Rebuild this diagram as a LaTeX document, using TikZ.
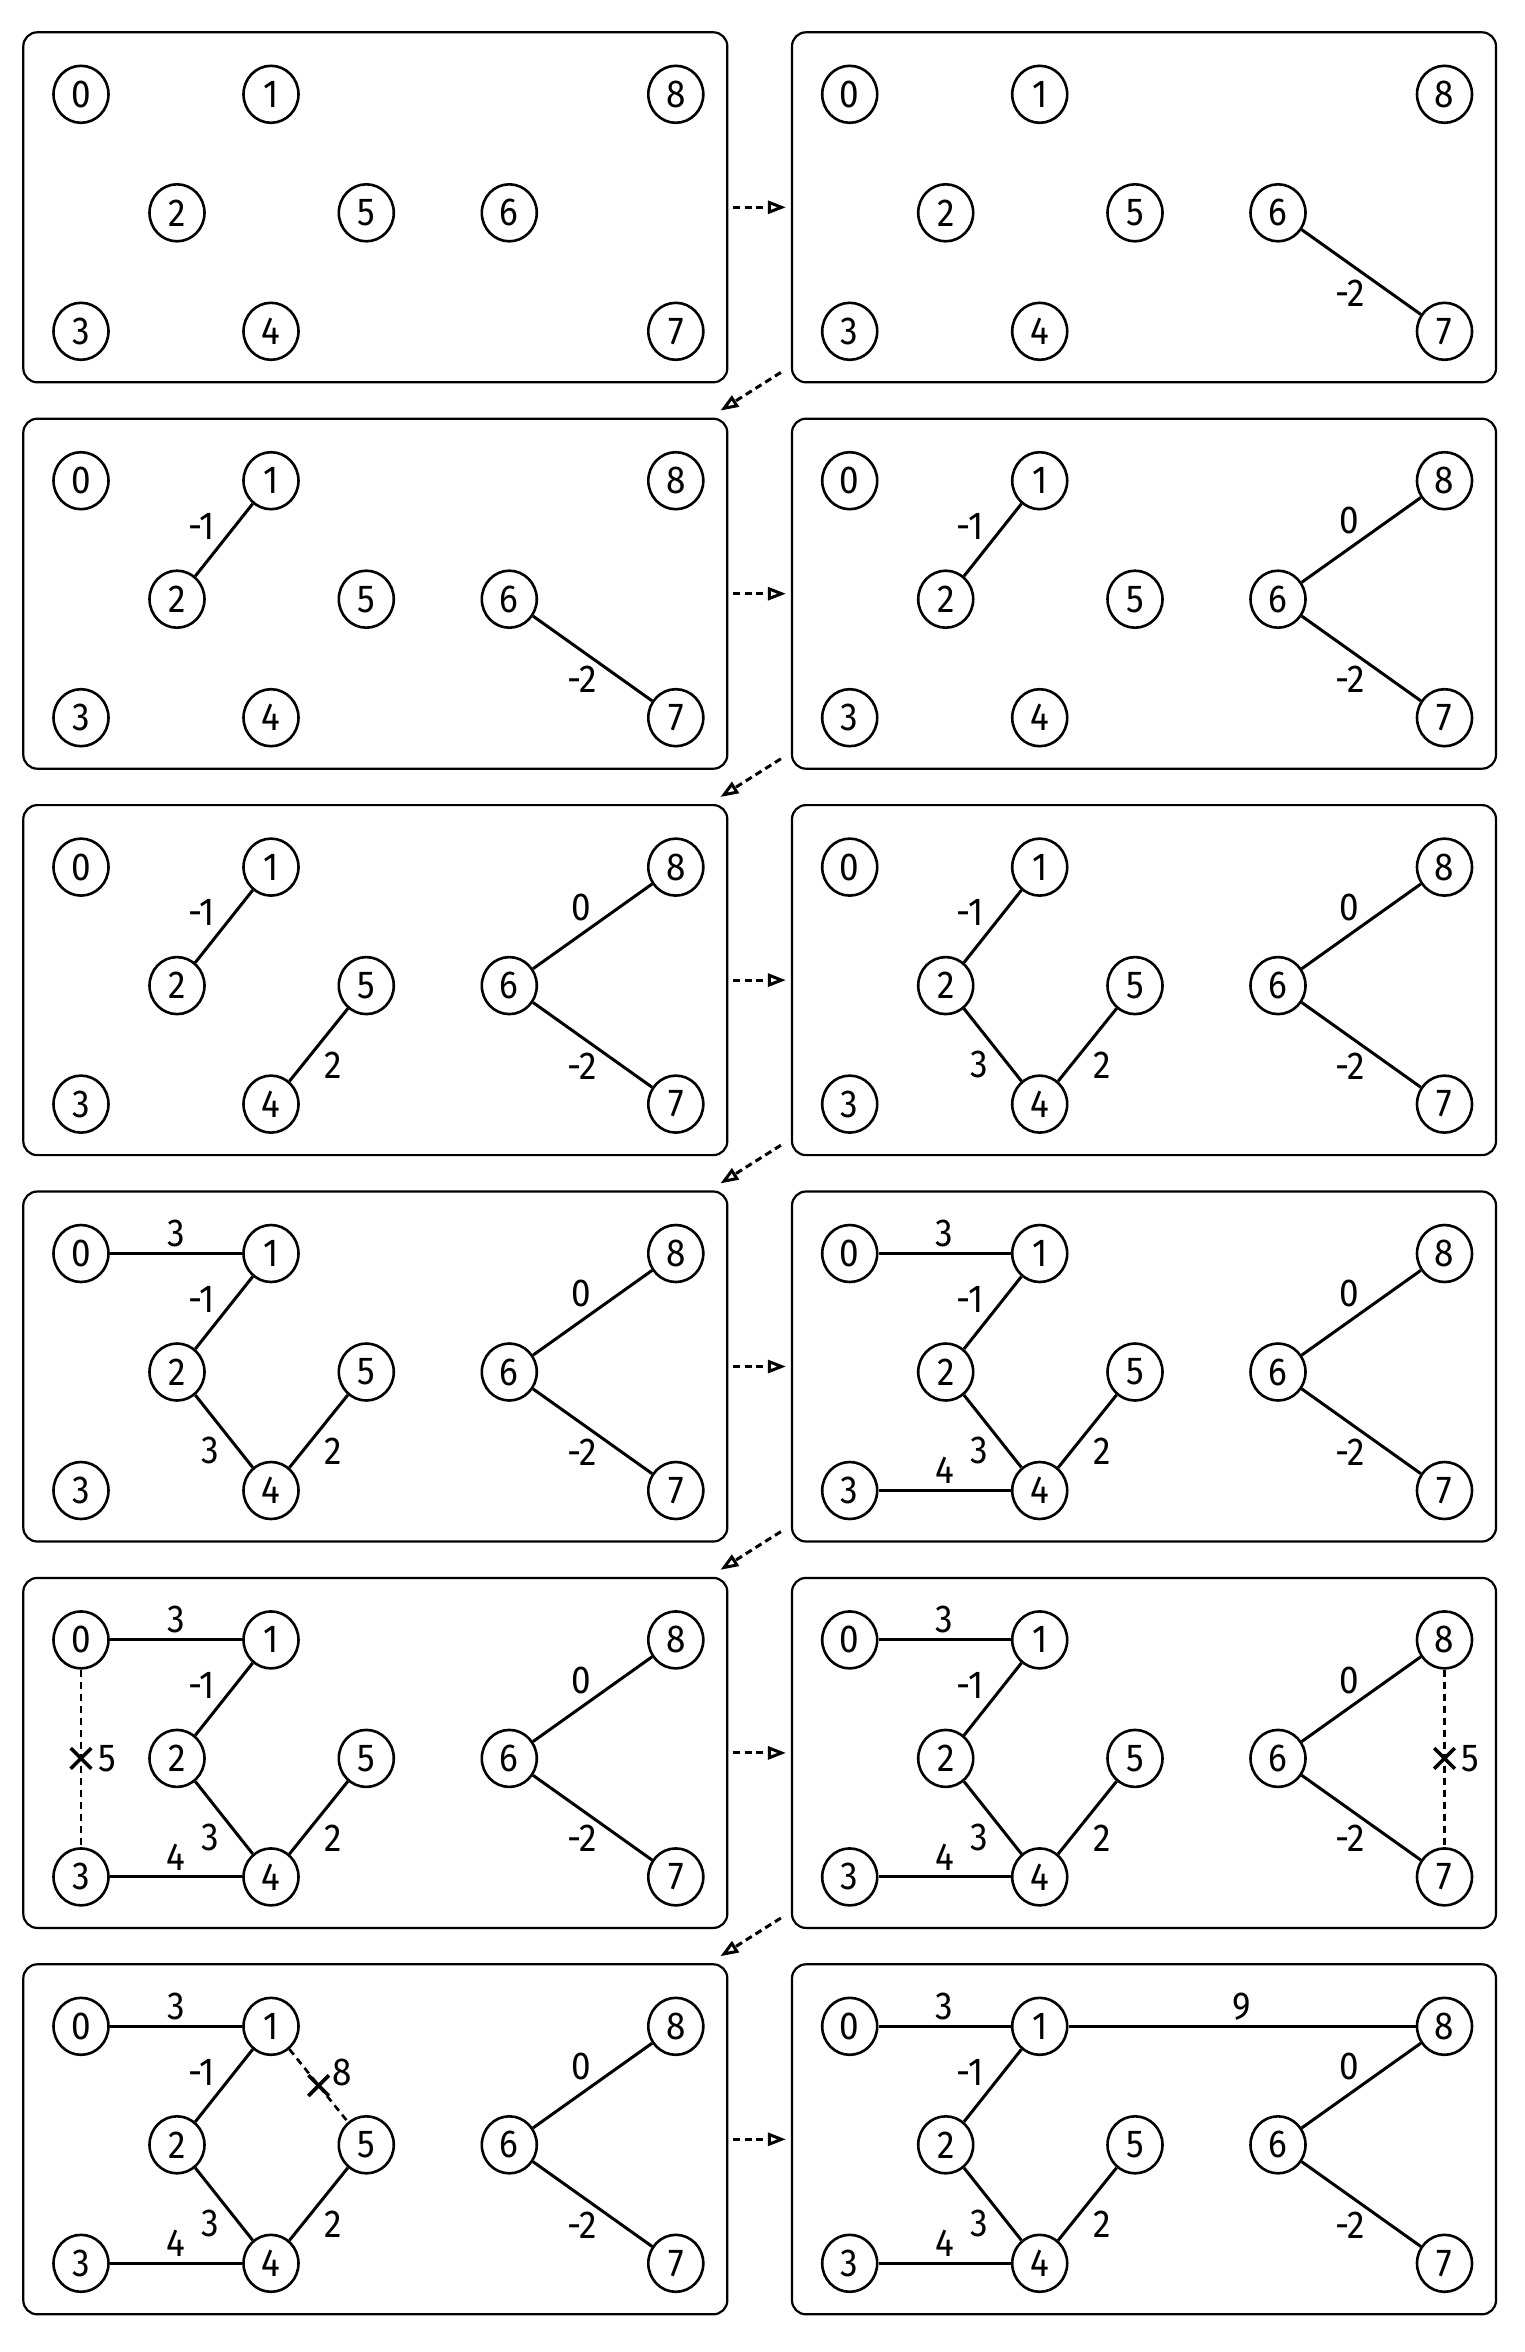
\documentclass[tikz,border=0pt]{standalone}
\usepackage{fontspec}
\setmainfont{Fira Sans}[FakeStretch=0.9]
\usetikzlibrary{arrows.meta,shapes.geometric,shapes.misc}
\tikzset{
  panel/.style={draw, line width=2.2pt, rounded corners=14pt, minimum width=704pt, minimum height=350pt, inner sep=0pt},
  vtx/.style={draw, ellipse, line width=2.6pt, minimum width=55pt, minimum height=57pt, inner sep=0pt, font=\fontsize{39}{40}\selectfont},
  edge/.style={line width=3pt},
  dedge/.style={line width=2.6pt, dash pattern=on 7pt off 5pt},
  lbl/.style={inner sep=0pt, font=\fontsize{39}{40}\selectfont},
  xmark/.style={cross out, draw, solid, line width=3.6pt, minimum size=17pt, inner sep=0pt},
  flow/.style={line width=3pt, dash pattern=on 7pt off 4.5pt, -{Triangle[open,length=18pt,width=13pt]}}
}
\newcommand\mkpanel[3]{%
  \node[panel] (#1) at ({#2+352},{#3+175}) {};
  \foreach \k/\dx/\dy in {0/57.7/62, 1/247.7/62, 8/652.5/62, 2/153.7/180.5, 5/343/180.5, 6/486/180.5, 3/57.7/299, 4/247.7/299, 7/652.5/299}
    {\node[vtx] (#1-\k) at ({#2+\dx},{#3+\dy}) {\k};}
}
\newcommand\EdA[1]{\draw[edge] (#1-0) -- node[lbl,shift={(0,-20)}]{3} (#1-1);}
\newcommand\EdB[1]{\draw[edge] (#1-2) -- node[lbl,shift={(-22.5,-13.6)}]{-1} (#1-1);}
\newcommand\EdC[1]{\draw[edge] (#1-2) -- node[lbl,shift={(-13.4,19.4)}]{3} (#1-4);}
\newcommand\EdD[1]{\draw[edge] (#1-4) -- node[lbl,shift={(14.7,20.2)}]{2} (#1-5);}
\newcommand\EdE[1]{\draw[edge] (#1-6) -- node[lbl,shift={(-11.7,-19)}]{0} (#1-8);}
\newcommand\EdF[1]{\draw[edge] (#1-6) -- node[lbl,shift={(-10.8,21)}]{-2} (#1-7);}
\newcommand\EdG[1]{\draw[edge] (#1-3) -- node[lbl,shift={(0,-20)}]{4} (#1-4);}
\begin{document}
\begin{tikzpicture}[x=1pt,y=-1pt]
\useasboundingbox (0,0) rectangle (1525,2352);
\fill[white] (0,0) rectangle (1525,2352);
% panels
\mkpanel{p1}{23.3}{32.3}
\mkpanel{p2}{792}{32.3}
\mkpanel{p3}{23.3}{418.7}
\mkpanel{p4}{792}{418.7}
\mkpanel{p5}{23.3}{805.1}
\mkpanel{p6}{792}{805.1}
\mkpanel{p7}{23.3}{1191.5}
\mkpanel{p8}{792}{1191.5}
\mkpanel{p9}{23.3}{1577.9}
\mkpanel{p10}{792}{1577.9}
\mkpanel{p11}{23.3}{1964.3}
\mkpanel{p12}{792}{1964.3}
% edges
\EdF{p2}
\EdB{p3}\EdF{p3}
\EdB{p4}\EdE{p4}\EdF{p4}
\EdB{p5}\EdD{p5}\EdE{p5}\EdF{p5}
\EdB{p6}\EdC{p6}\EdD{p6}\EdE{p6}\EdF{p6}
\EdA{p7}\EdB{p7}\EdC{p7}\EdD{p7}\EdE{p7}\EdF{p7}
\foreach \p in {p8,p9,p10,p11,p12}{\EdA{\p}\EdB{\p}\EdC{\p}\EdD{\p}\EdE{\p}\EdF{\p}\EdG{\p}}
\draw[dedge] (p9-0) -- node[xmark]{} node[lbl,shift={(26,0)}]{5} (p9-3);
\draw[dedge] (p10-8) -- node[xmark]{} node[lbl,shift={(26,0)}]{5} (p10-7);
\draw[dedge] (p11-1) -- node[xmark]{} node[lbl,shift={(23.5,-12.8)}]{8} (p11-5);
\draw[edge] (p12-1) -- node[lbl,shift={(0,-20)}]{9} (p12-8);
% flow arrows
\foreach \a/\b in {p1/p2,p3/p4,p5/p6,p7/p8,p9/p10,p11/p12}
  {\draw[flow, shorten <=5pt, shorten >=5pt] (\a.east) -- (\b.west);}
\foreach \a/\b in {p2/p3,p4/p5,p6/p7,p8/p9,p10/p11}
  {\draw[flow] ([shift={(-10,-11)}]\a.south west) -- ([shift={(-8,-7)}]\b.north east);}
\end{tikzpicture}
\end{document}
